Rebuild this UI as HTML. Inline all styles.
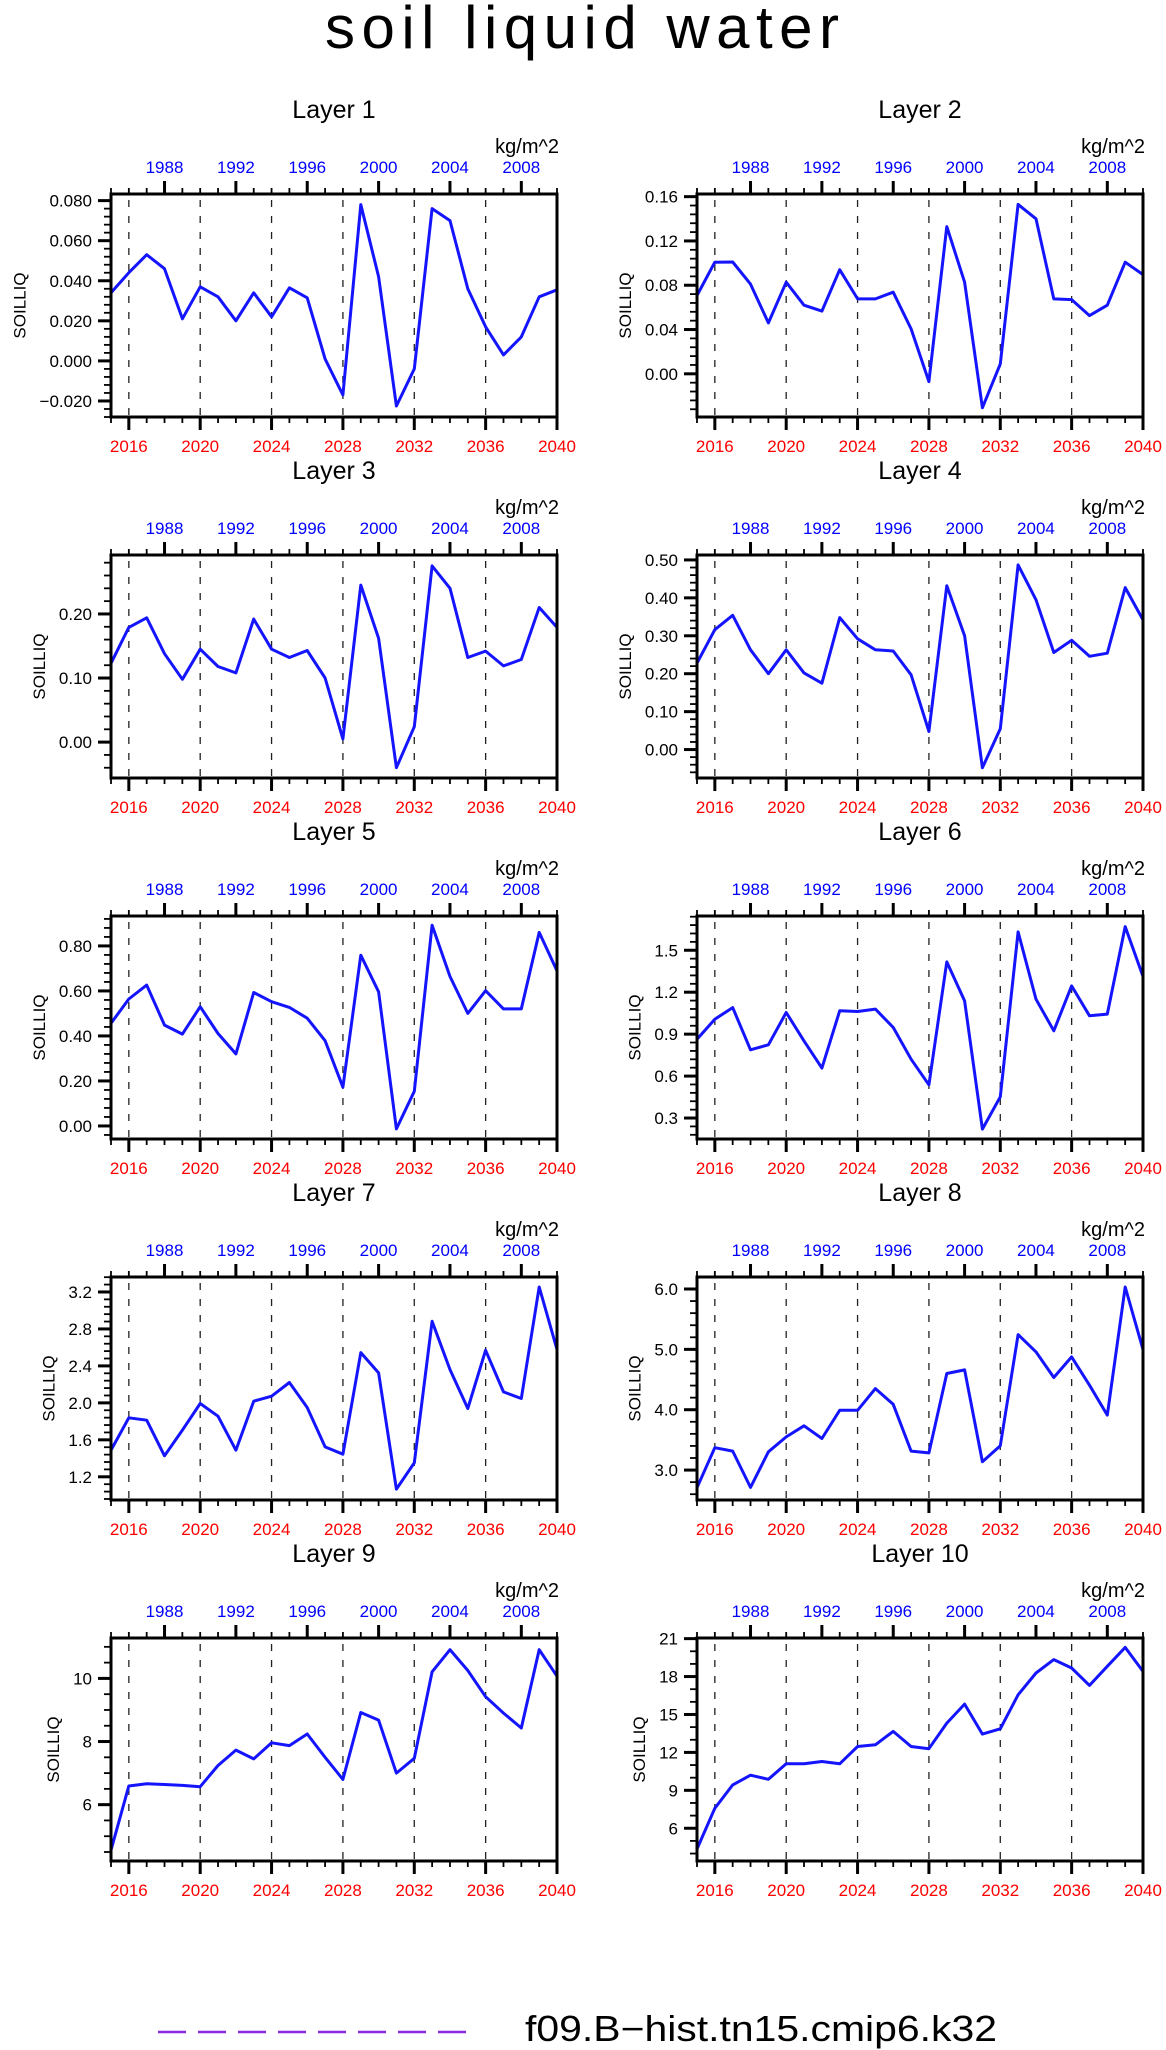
<!DOCTYPE html>
<html><head><meta charset="utf-8"><title>soil liquid water</title>
<style>html,body{margin:0;padding:0;background:#fff}svg{display:block}text{font-family:"Liberation Sans",sans-serif}</style>
</head><body>
<svg id="chart" xmlns="http://www.w3.org/2000/svg" width="1166" height="2050" viewBox="0 0 1166 2050">
<rect width="1166" height="2050" fill="#fff"/>
<text x="582" y="48" font-size="60" text-anchor="middle" textLength="514" lengthAdjust="spacing" fill="#000">soil liquid water</text>
<g id="panels"></g>
<g>
<line x1="158" y1="2032" x2="474" y2="2032" stroke="#8a2be2" stroke-width="2.5" stroke-dasharray="28,12"/>
<text x="525" y="2041" font-size="36" textLength="472" lengthAdjust="spacingAndGlyphs" fill="#000">f09.B−hist.tn15.cmip6.k32</text>
</g>
</svg>
<script>
const years = [2015,2016,2017,2018,2019,2020,2021,2022,2023,2024,2025,2026,2027,2028,2029,2030,2031,2032,2033,2034,2035,2036,2037,2038,2039,2040];
const layerNames = ["Layer 1","Layer 2","Layer 3","Layer 4","Layer 5","Layer 6","Layer 7","Layer 8","Layer 9","Layer 10"];
const layer1 = [0.034,0.044,0.053,0.046,0.021,0.037,0.032,0.020,0.034,0.022,0.0365,0.0315,0.001,-0.017,0.078,0.042,-0.0225,-0.004,0.076,0.070,0.036,0.017,0.003,0.012,0.032,0.0355];
const layer2 = [0.0707,0.1008,0.101,0.081,0.046,0.0827,0.062,0.0566,0.094,0.0677,0.0677,0.0737,0.0406,-0.007,0.133,0.0827,-0.0307,0.009,0.153,0.140,0.0677,0.067,0.0526,0.062,0.1008,0.0896];
const layer3 = [0.123,0.179,0.194,0.138,0.098,0.145,0.118,0.108,0.192,0.145,0.132,0.143,0.10,0.005,0.245,0.162,-0.04,0.024,0.275,0.240,0.132,0.142,0.119,0.129,0.21,0.179];
const layer4 = [0.228,0.316,0.354,0.263,0.2,0.263,0.202,0.175,0.348,0.292,0.263,0.26,0.197,0.048,0.432,0.30,-0.048,0.055,0.487,0.395,0.256,0.288,0.246,0.254,0.427,0.342];
const layer5 = [0.456,0.564,0.626,0.448,0.408,0.53,0.411,0.32,0.593,0.552,0.527,0.479,0.379,0.172,0.759,0.596,-0.013,0.154,0.892,0.664,0.5,0.601,0.52,0.52,0.86,0.689];
const layer6 = [0.864,1.007,1.09,0.788,0.824,1.055,0.852,0.657,1.067,1.062,1.079,0.948,0.721,0.538,1.417,1.138,0.221,0.452,1.631,1.15,0.924,1.245,1.031,1.043,1.669,1.312];
const layer7 = [1.488,1.838,1.813,1.427,1.705,1.993,1.856,1.488,2.018,2.072,2.22,1.95,1.524,1.445,2.544,2.324,1.067,1.351,2.883,2.36,1.939,2.569,2.119,2.047,3.254,2.577];
const layer8 = [2.707,3.37,3.314,2.713,3.302,3.55,3.733,3.523,3.99,3.99,4.35,4.09,3.314,3.285,4.6,4.66,3.138,3.403,5.245,4.958,4.533,4.875,4.406,3.91,6.033,4.996];
const layer9 = [4.56,6.59,6.66,6.64,6.61,6.57,7.24,7.73,7.45,7.96,7.87,8.24,7.50,6.80,8.92,8.68,7.0,7.47,10.21,10.91,10.25,9.42,8.90,8.43,10.91,10.07];
const layer10 = [4.36,7.58,9.43,10.2,9.87,11.1,11.1,11.28,11.1,12.47,12.6,13.66,12.47,12.29,14.32,15.82,13.45,13.87,16.56,18.28,19.34,18.68,17.3,18.81,20.31,18.41];
const series = [layer1,layer2,layer3,layer4,layer5,layer6,layer7,layer8,layer9,layer10];
const yMins = [-0.028,-0.039,-0.056,-0.075,-0.058,0.15,0.949,2.504,4.215,3.41];
const yMaxs = [0.0833,0.1624,0.292,0.513,0.933,1.745,3.362,6.199,11.28,21.05];
const yLabelStart = [-0.02,0.0,0.0,0.0,0.0,0.3,1.2,3.0,6,6];
const yLabelStep = [0.02,0.04,0.1,0.1,0.2,0.3,0.4,1.0,2,3];
const yMinorStep = [0.004,0.008,0.02,0.02,0.04,0.06,0.08,0.2,0.5,1];
const yDecimals = [3,2,2,2,2,1,1,1,0,0];
const bottomTickLabels = [2016,2020,2024,2028,2032,2036,2040];
const topTickLabels = [1988,1992,1996,2000,2004,2008];
const topOffset = 30;

const NS="http://www.w3.org/2000/svg";
const root=document.getElementById('panels');
function mk(tag,attrs,parent){const e=document.createElementNS(NS,tag);for(const k in attrs)e.setAttribute(k,attrs[k]);parent.appendChild(e);return e;}
const W=446,H=223,X0=[111,697],Y0=194,PITCH=361;
const xMin=2015,xMax=2040;

for(let p=0;p<10;p++){
  const px=X0[p%2], py=Y0+Math.floor(p/2)*PITCH;
  const xs=v=>px+(v-xMin)/(xMax-xMin)*W;
  const ys=v=>py+H-(v-yMins[p])/(yMaxs[p]-yMins[p])*H;
  const g=mk('g',{},root);
  
  
  const t=mk('text',{x:px+W/2,y:py-76,'font-size':25,'text-anchor':'middle',fill:'#000'},g);
  t.textContent=layerNames[p];
  
  
  const u=mk('text',{x:px+W+2,y:py-41,'font-size':20,'text-anchor':'end',fill:'#000'},g);
  u.textContent='kg/m^2';
  
  
  // dashed verticals
  for(let yr=2016;yr<2040;yr+=4){
    const l=mk('line',{x1:xs(yr),x2:xs(yr),y1:py+6,y2:py+H,stroke:'#222','stroke-width':1.3,'stroke-dasharray':'7,9'},g);
    
    
  }
  // series
  const pts=years.map((y,i)=>xs(y).toFixed(1)+','+ys(series[p][i]).toFixed(1)).join(' ');
  const s=mk('polyline',{points:pts,fill:'none',stroke:'#1414ff','stroke-width':3,'stroke-linejoin':'round'},g);
  
  
  // x ticks
  for(let yr=xMin;yr<=xMax;yr++){
    const majB=bottomTickLabels.includes(yr);
    const b=mk('line',{x1:xs(yr),x2:xs(yr),y1:py+H,y2:py+H+(majB?13:6),stroke:'#000','stroke-width':majB?3:1.8},g);
    
    
    const majT=topTickLabels.includes(yr-topOffset);
    const tt=mk('line',{x1:xs(yr),x2:xs(yr),y1:py,y2:py-(majT?13:6),stroke:'#000','stroke-width':majT?3:1.8},g);
    
    
  }
  bottomTickLabels.forEach(yr=>{
    const l=mk('text',{x:xs(yr),y:py+H+35,'font-size':17,'text-anchor':'middle',fill:'#ff0000'},g);
    l.textContent=String(yr);
    
    
  });
  topTickLabels.forEach(yr=>{
    const l=mk('text',{x:xs(yr+topOffset),y:py-21,'font-size':17,'text-anchor':'middle',fill:'#0000ff'},g);
    l.textContent=String(yr);
    
    
  });
  // y ticks
  const step=yMinorStep[p];
  for(let k=Math.ceil(yMins[p]/step-1e-6);k*step<=yMaxs[p]+1e-9;k++){
    const v=k*step;
    const r=(v-yLabelStart[p])/yLabelStep[p];
    const maj=Math.abs(r-Math.round(r))<1e-6;
    const tk=mk('line',{x1:px,x2:px-(maj?13:7),y1:ys(v),y2:ys(v),stroke:'#000','stroke-width':maj?3:1.8},g);
    
    
  }
  let minLeft=1e9;
  const labs=[];
  for(let v=yLabelStart[p];v<=yMaxs[p]+1e-9;v+=yLabelStep[p]){
    const l=mk('text',{x:px-19,y:ys(v)+6,'font-size':17,'text-anchor':'end',fill:'#000'},g);
    let s2=Math.abs(v)<1e-9?(0).toFixed(yDecimals[p]):v.toFixed(yDecimals[p]);
    l.textContent=s2.replace('-','\u2212');
    
    
    labs.push(l);
  }
  labs.forEach(l=>{try{const bb=l.getBBox();if(bb.x<minLeft)minLeft=bb.x;}catch(e){}});
  if(minLeft>1e8)minLeft=px-60;
  const cx=minLeft-14, cy=py+H/2;
  const yt=mk('text',{x:cx,y:cy,'font-size':17,'text-anchor':'middle',transform:'rotate(-90 '+cx+' '+cy+')',fill:'#000'},g);
  yt.textContent='SOILLIQ';
  
  
  // frame
  const fr=mk('rect',{x:px,y:py,width:W,height:H,fill:'none',stroke:'#000','stroke-width':3},g);
  
  
}
</script>
</body></html>
